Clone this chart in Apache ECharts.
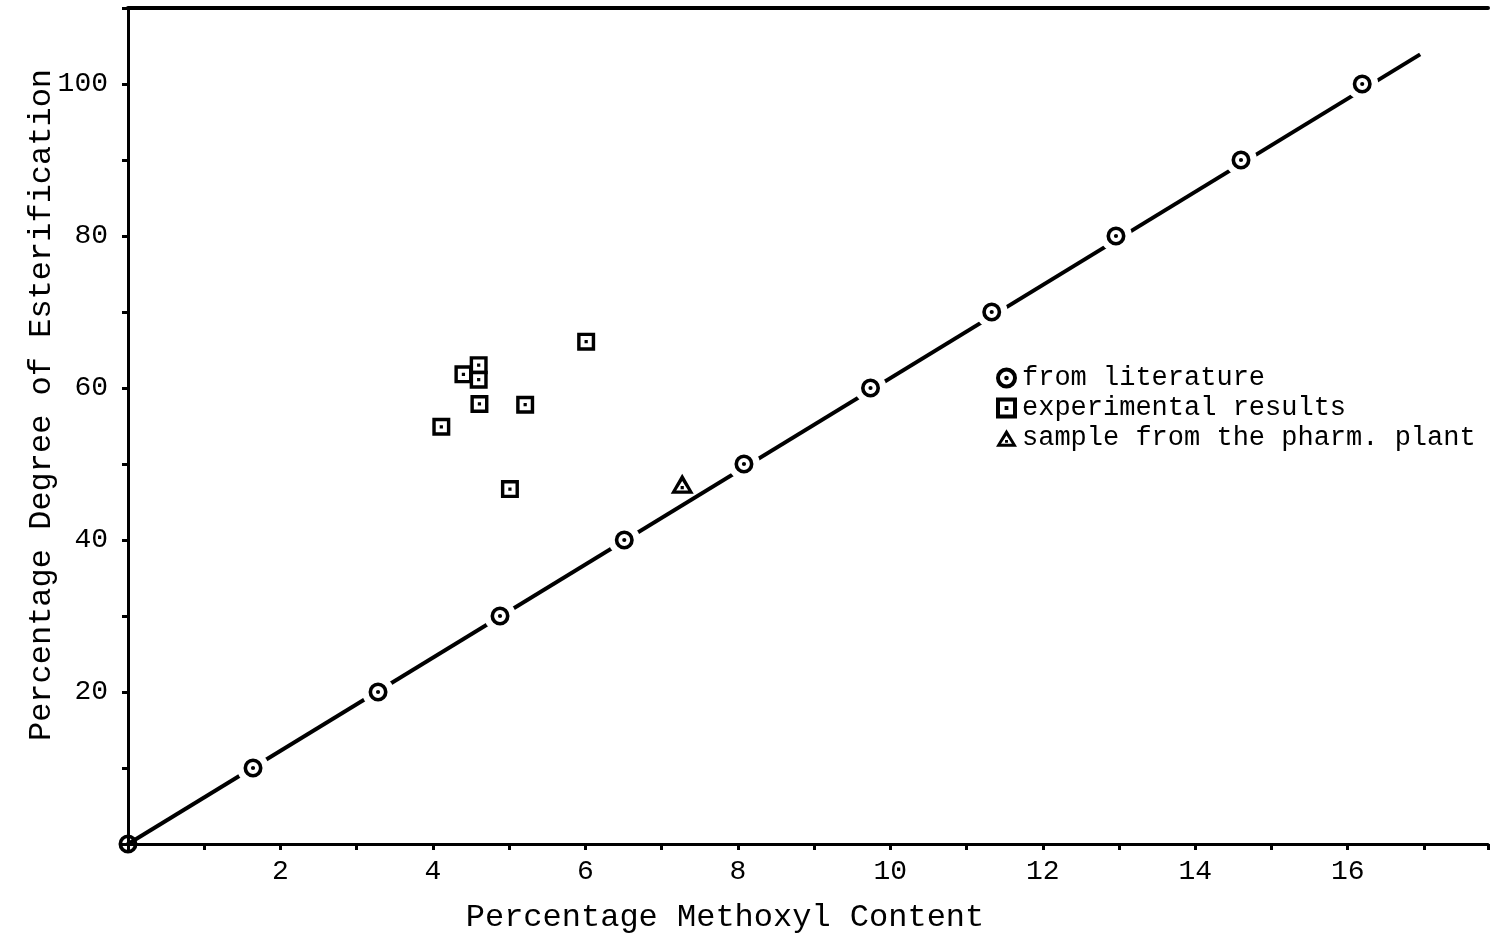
<!DOCTYPE html>
<html>
<head>
<meta charset="utf-8">
<script src="https://cdn.jsdelivr.net/npm/echarts@6/dist/echarts.min.js"></script>
<style>html,body{margin:0;padding:0;background:#fff;}#c{width:1491px;height:940px;}</style>
</head>
<body>
<div id="c"></div>
<script>
// ---- data ----
const literatureX = [0, 1.64, 3.28, 4.88, 6.51, 8.08, 9.74, 11.33, 12.96, 14.60, 16.19];
const literatureY = [0, 10, 20, 30, 40, 50, 60, 70, 80, 90, 100];
const experimentalX = [6.01, 4.40, 4.60, 4.60, 4.61, 5.21, 4.11, 5.01];
const experimentalY = [66.1, 61.8, 63.0, 61.1, 57.9, 57.8, 54.9, 46.7];
const plantX = [7.27];
const plantY = [47.4];
const lineX = [0, 16.95];
const lineY = [0, 103.9];
const xTickLabels = [2, 4, 6, 8, 10, 12, 14, 16];
const yTickLabels = [20, 40, 60, 80, 100];
const seriesNames = ['from literature', 'experimental results', 'sample from the pharm. plant'];
const xName = 'Percentage Methoxyl Content';
const yName = 'Percentage Degree of Esterification';

const zip = (a, b) => a.map((v, i) => [v, b[i]]);

const ringDot = 'path://M0 -10A10 10 0 1 1 0 10A10 10 0 1 1 0 -10Z M0 -6.2A6.2 6.2 0 1 0 0 6.2A6.2 6.2 0 1 0 0 -6.2Z M0 -2.2A2.2 2.2 0 1 1 0 2.2A2.2 2.2 0 1 1 0 -2.2Z';
const squareDot = 'path://M-10 -10L10 -10L10 10L-10 10Z M-6.2 -6.2L-6.2 6.2L6.2 6.2L6.2 -6.2Z M-1.8 -1.8L1.8 -1.8L1.8 1.8L-1.8 1.8Z';
const triDot = 'path://M0 -10L11.5 9L-11.5 9Z M0 -3.2L-6 5.8L6 5.8Z M-1.6 1.6L1.6 1.6L1.6 4.6L-1.6 4.6Z';

const FONT = 'Liberation Mono';
const chart = echarts.init(document.getElementById('c'), null, {renderer: 'canvas'});
chart.setOption({
  backgroundColor: '#ffffff',
  animation: false,
  grid: {left: 128, right: 0, top: 8, bottom: 96, containLabel: false},
  legend: {
    data: seriesNames,
    orient: 'vertical',
    left: 996,
    top: 363,
    padding: 0,
    itemGap: 0,
    itemWidth: 21,
    itemHeight: 21,
    textStyle: {fontFamily: FONT, fontSize: 27, color: '#000', lineHeight: 30}
  },
  xAxis: [{
    type: 'value', min: 0, max: 17.84, interval: 1,
    name: xName, nameLocation: 'middle', nameGap: 58, nameMoveOverlap: false,
    nameTextStyle: {fontFamily: FONT, fontSize: 32, color: '#000', padding: [0, 166, 0, 0]},
    axisLine: {lineStyle: {color: '#000', width: 3}},
    axisTick: {show: true, length: 6, lineStyle: {color: '#000', width: 3}},
    axisLabel: {
      fontFamily: FONT, fontSize: 28, color: '#000', margin: 14,
      formatter: v => xTickLabels.includes(v) ? String(v) : ''
    },
    splitLine: {show: false}
  }, {
    type: 'value', position: 'top', min: 0, max: 17.84,
    axisLine: {onZero: false, lineStyle: {color: '#000', width: 4}},
    axisTick: {show: false}, axisLabel: {show: false}, splitLine: {show: false}
  }],
  yAxis: {
    type: 'value', min: 0, max: 110, interval: 10,
    name: yName, nameLocation: 'middle', nameGap: 70, nameRotate: 90, nameMoveOverlap: false,
    nameTextStyle: {fontFamily: FONT, fontSize: 32, color: '#000', padding: [0, 0, 0, 42]},
    axisLine: {lineStyle: {color: '#000', width: 3}},
    axisTick: {show: true, length: 6, lineStyle: {color: '#000', width: 3}},
    axisLabel: {
      fontFamily: FONT, fontSize: 28, color: '#000', margin: 20,
      formatter: v => yTickLabels.includes(v) ? String(v) : ''
    },
    splitLine: {show: false}
  },
  series: [
    {
      type: 'line', name: 'fit', data: zip(lineX, lineY), z: 1,
      showSymbol: false, symbol: 'none', silent: true,
      lineStyle: {color: '#000', width: 4}
    },
    {
      type: 'scatter', name: 'halo', data: zip(literatureX, literatureY).slice(1), z: 2,
      symbol: 'circle', symbolSize: 32, silent: true, clip: false,
      itemStyle: {color: '#fff', opacity: 1}
    },
    {
      type: 'scatter', name: seriesNames[0], data: zip(literatureX, literatureY), z: 3,
      symbol: ringDot, symbolSize: 19, clip: false,
      itemStyle: {color: '#000', opacity: 1}
    },
    {
      type: 'scatter', name: seriesNames[1], data: zip(experimentalX, experimentalY), z: 3,
      symbol: squareDot, symbolSize: 18, clip: false,
      itemStyle: {color: '#000', opacity: 1}
    },
    {
      type: 'scatter', name: seriesNames[2], data: zip(plantX, plantY), z: 3,
      symbol: triDot, symbolSize: [23, 20], clip: false,
      itemStyle: {color: '#000', opacity: 1}
    }
  ]
});
</script>
</body>
</html>
